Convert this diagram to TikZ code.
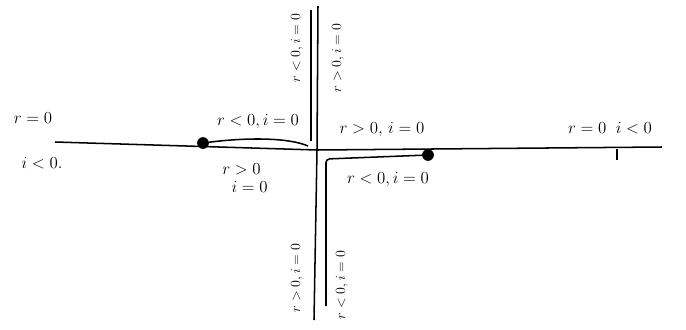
\documentclass[tikz,border=0pt]{standalone}
\usepackage{amsmath}
\usepackage{tikz}
\usetikzlibrary{positioning}

\begin{document}
\begin{tikzpicture}[x=0.03cm,y=-0.03cm,
		axis/.style={line width=1.3pt},
		branch/.style={line width=1.3pt,rounded corners=3pt},
		dot/.style={circle,fill=black,inner sep=0pt,minimum size=10pt},
		lbl/.style={font=\Large,inner sep=1pt},
		vlbl/.style={font=\large,inner sep=1pt,rotate=90}]
	\useasboundingbox (0,0) rectangle (686,329);
	% axes
	\coordinate (west) at (55,142);
	\coordinate (origin) at (317,150);
	\coordinate (east) at (662,147);
	\coordinate (north) at (318,6);
	\coordinate (south) at (314,320);
	\draw[axis] (west) -- (origin) -- (east);
	\draw[axis] (north) -- (origin) -- (south);
	% the two branches
	\node[dot] (lp) at (203,143) {};
	\node[dot] (rp) at (428,155) {};
	\coordinate (atop) at (311,10);
	\coordinate (aend) at (311,141);
	\coordinate (acurve) at (308,146);
	\draw[branch] (atop) -- (aend);
	\draw[branch] (lp) .. controls (250,137) and (290,138) .. (acurve);
	\coordinate (ccorner) at (326,159);
	\coordinate (cend) at (326,306);
	\draw[branch] (rp) -- (ccorner) -- (cend);
	\coordinate (tick) at (617,149);
	\draw[line width=1pt] (tick) -- ++(0,11);
	% labels
	\node[lbl] (lr) at (33,118) {$r=0$};
	\node[lbl] (li) at (42,163) {$i<0$.};
	\node[lbl] (rr) at (610,128) {$r=0\;\; i<0$};
	\node[lbl] (ua) at (258,122) {$r<0,i=0$};
	\node[lbl,align=left] (ub) at (245,178) {$r>0$\\[-3pt]$\;\;i=0$};
	\node[lbl] (uc) at (382,130) {$r>0,\,i=0$};
	\node[lbl] (ud) at (388,180) {$r<0,i=0$};
	\node[vlbl] (va) at (297,48) {$r<0,i=0$};
	\node[vlbl] (vb) at (338,58) {$r>0,i=0$};
	\node[vlbl] (vc) at (297,278) {$r>0,i=0$};
	\node[vlbl] (vd) at (342,285) {$r<0,i=0$};
\end{tikzpicture}
\end{document}
